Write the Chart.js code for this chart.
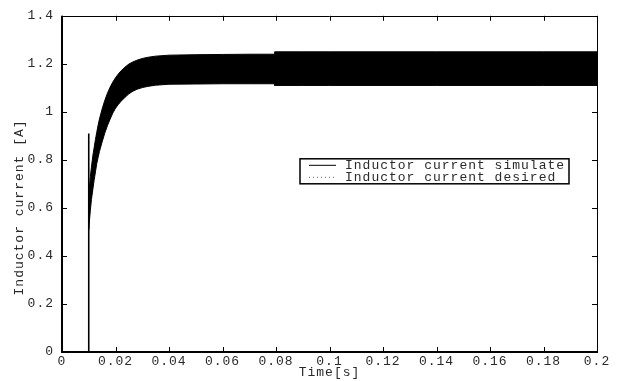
<!DOCTYPE html>
<html>
<head>
<meta charset="utf-8">
<script src="https://cdn.jsdelivr.net/npm/chart.js@4.4.1/dist/chart.umd.min.js"></script>
<style>
  html, body { margin: 0; padding: 0; background: #fff; }
  #wrap { width: 621px; height: 381px; }
</style>
</head>
<body>
<div id="wrap"><canvas id="c" width="621" height="381"></canvas></div>
<script>
// Switching ripple envelope of the simulated inductor current [A] vs time [s]
const time = [0.0100, 0.0102, 0.0106, 0.0110, 0.0115, 0.0120, 0.0125, 0.0130, 0.0135, 0.0140,
              0.0150, 0.0160, 0.0170, 0.0180, 0.0190, 0.0200, 0.0210, 0.0220, 0.0235, 0.0250,
              0.0265, 0.0280, 0.0300, 0.0320, 0.0350, 0.0400, 0.0500, 0.0600, 0.0700, 0.0795,
              0.0795, 0.0900, 0.1000, 0.1200, 0.1400, 0.1600, 0.1800, 0.2000];
const simUpper = [0.51, 0.680, 0.730, 0.770, 0.815, 0.850, 0.885, 0.915, 0.945, 0.970,
                  1.012, 1.048, 1.078, 1.103, 1.124, 1.142, 1.157, 1.170, 1.186, 1.199,
                  1.208, 1.215, 1.222, 1.227, 1.232, 1.236, 1.238, 1.239, 1.240, 1.240,
                  1.250, 1.250, 1.250, 1.250, 1.250, 1.250, 1.250, 1.250];
const simLower = [0.51, 0.540, 0.590, 0.635, 0.675, 0.715, 0.750, 0.785, 0.810, 0.835,
                  0.875, 0.912, 0.943, 0.970, 0.995, 1.015, 1.030, 1.043, 1.060, 1.075,
                  1.086, 1.094, 1.101, 1.106, 1.111, 1.115, 1.116, 1.117, 1.117, 1.117,
                  1.110, 1.110, 1.110, 1.110, 1.110, 1.110, 1.110, 1.110];
// Start-up transient: current jumps from 0 to its first peak at t = 0.01 s
const spikeTime = [0.01, 0.01];
const spikeValue = [0.0, 0.91];
// Reference (desired) current
const desiredTime = [0.04, 0.2];
const desiredValue = [1.18, 1.18];

const seriesNames = ['Inductor current simulate', 'Inductor current desired'];
const xTitle = 'Time[s]';
const yTitle = 'Inductor current [A]';
const xTickValues = [0, 0.02, 0.04, 0.06, 0.08, 0.1, 0.12, 0.14, 0.16, 0.18, 0.2];
const xTickLabels = ['0', '0.02', '0.04', '0.06', '0.08', '0.1', '0.12', '0.14', '0.16', '0.18', '0.2'];
const yTickValues = [0, 0.2, 0.4, 0.6, 0.8, 1, 1.2, 1.4];
const yTickLabels = ['0', '0.2', '0.4', '0.6', '0.8', '1', '1.2', '1.4'];

const FONT = '"Liberation Mono", "Courier New", monospace';
const FSIZE = 13;
const INK = '#2a2a2a';

const pts = (xs, ys) => xs.map((x, i) => ({ x: x, y: ys[i] }));

// Typewriter-style letter spacing for every text drawn on the canvas
const spacingPlugin = {
  id: 'spacing',
  beforeInit(chart) { chart.ctx.letterSpacing = '1px'; },
  beforeDraw(chart) { chart.ctx.letterSpacing = '1px'; }
};

// Inner tick marks, axes box and the vertical axis label
const boxPlugin = {
  id: 'axesBox',
  afterDatasetsDraw(chart) {
    const { ctx, chartArea: a, scales } = chart;
    const L = 5;
    ctx.save();
    ctx.strokeStyle = '#000';
    ctx.lineWidth = 1;
    ctx.beginPath();
    xTickValues.forEach(v => {
      const px = Math.round(scales.x.getPixelForValue(v)) + 0.5;
      ctx.moveTo(px, a.bottom); ctx.lineTo(px, a.bottom - L);
      ctx.moveTo(px, a.top); ctx.lineTo(px, a.top + L);
    });
    yTickValues.forEach(v => {
      const py = Math.round(scales.y.getPixelForValue(v)) + 0.5;
      ctx.moveTo(a.left, py); ctx.lineTo(a.left + L, py);
      ctx.moveTo(a.right, py); ctx.lineTo(a.right - L, py);
    });
    ctx.stroke();
    ctx.beginPath();
    ctx.moveTo(a.left, Math.round(a.top) + 0.5);
    ctx.lineTo(Math.round(a.right) + 0.5, Math.round(a.top) + 0.5);
    ctx.lineTo(Math.round(a.right) + 0.5, a.bottom);
    ctx.stroke();
    ctx.lineWidth = 2;
    ctx.beginPath();
    ctx.moveTo(Math.round(a.left), a.top);
    ctx.lineTo(Math.round(a.left), Math.round(a.bottom));
    ctx.lineTo(a.right + 1, Math.round(a.bottom));
    ctx.stroke();

    // rotated y-axis label
    ctx.translate(20, a.top + (a.bottom - a.top) * 0.57);
    ctx.rotate(-Math.PI / 2);
    ctx.fillStyle = INK;
    ctx.font = FSIZE + 'px ' + FONT;
    ctx.letterSpacing = '1px';
    ctx.textAlign = 'center';
    ctx.textBaseline = 'middle';
    ctx.fillText(yTitle, 0, 0);
    ctx.restore();
  }
};

// Boxed legend inside the axes
const legendPlugin = {
  id: 'boxLegend',
  afterDraw(chart) {
    const { ctx, chartArea: a } = chart;
    const x0 = a.left + 238, y0 = a.top + 143, w = 269, h = 25;
    ctx.save();
    ctx.fillStyle = '#fff';
    ctx.fillRect(x0, y0, w, h);
    ctx.strokeStyle = '#000';
    ctx.lineWidth = 1.5;
    ctx.strokeRect(x0, y0, w, h);
    ctx.lineWidth = 1;
    ctx.beginPath();
    ctx.moveTo(x0 + 9, y0 + 6.5); ctx.lineTo(x0 + 36, y0 + 6.5);
    ctx.stroke();
    ctx.setLineDash([1, 3]);
    ctx.strokeStyle = '#666';
    ctx.beginPath();
    ctx.moveTo(x0 + 9, y0 + 18.5); ctx.lineTo(x0 + 36, y0 + 18.5);
    ctx.stroke();
    ctx.setLineDash([]);
    ctx.fillStyle = INK;
    ctx.font = FSIZE + 'px ' + FONT;
    ctx.letterSpacing = '1px';
    ctx.textBaseline = 'middle';
    ctx.fillText(seriesNames[0], x0 + 45, y0 + 7);
    ctx.fillText(seriesNames[1], x0 + 45, y0 + 18.5);
    ctx.restore();
  }
};

new Chart(document.getElementById('c'), {
  type: 'line',
  data: {
    datasets: [
      {
        label: seriesNames[0],
        data: pts(time, simUpper),
        borderColor: '#000', borderWidth: 1, pointRadius: 0,
        backgroundColor: '#000', fill: '+1', tension: 0, order: 2
      },
      {
        label: seriesNames[0] + ' (lower)',
        data: pts(time, simLower),
        borderColor: '#000', borderWidth: 1, pointRadius: 0,
        fill: false, tension: 0, order: 2
      },
      {
        label: seriesNames[0] + ' (start)',
        data: pts(spikeTime, spikeValue),
        borderColor: '#000', borderWidth: 1.6, pointRadius: 0,
        fill: false, order: 1
      },
      {
        label: seriesNames[1],
        data: pts(desiredTime, desiredValue),
        borderColor: '#555', borderWidth: 1, borderDash: [1, 3], pointRadius: 0,
        fill: false, order: 3
      }
    ]
  },
  options: {
    responsive: false,
    animation: false,
    devicePixelRatio: 1,
    layout: { padding: { left: 0, top: 11, right: 24, bottom: 0 } },
    plugins: { legend: { display: false }, tooltip: { enabled: false } },
    scales: {
      x: {
        type: 'linear', min: 0, max: 0.2,
        afterBuildTicks: s => { s.ticks = xTickValues.map(v => ({ value: v })); },
        afterFit: s => { s.height = 29; },
        grid: { display: false, drawTicks: false },
        border: { display: false },
        ticks: {
          autoSkip: false, maxRotation: 0, padding: 2, color: INK,
          font: { family: FONT, size: FSIZE },
          callback: (v, i) => xTickLabels[i]
        },
        title: {
          display: true, text: xTitle, color: INK,
          font: { family: FONT, size: FSIZE }, padding: { top: 0, bottom: 1 }
        }
      },
      y: {
        type: 'linear', min: 0, max: 1.4,
        afterBuildTicks: s => { s.ticks = yTickValues.map(v => ({ value: v })); },
        afterFit: s => { s.width = 62; },
        grid: { display: false, drawTicks: false },
        border: { display: false },
        ticks: {
          autoSkip: false, padding: 8, color: INK,
          font: { family: FONT, size: FSIZE },
          callback: (v, i) => yTickLabels[i]
        }
      }
    }
  },
  plugins: [spacingPlugin, boxPlugin, legendPlugin]
});
</script>
</body>
</html>
